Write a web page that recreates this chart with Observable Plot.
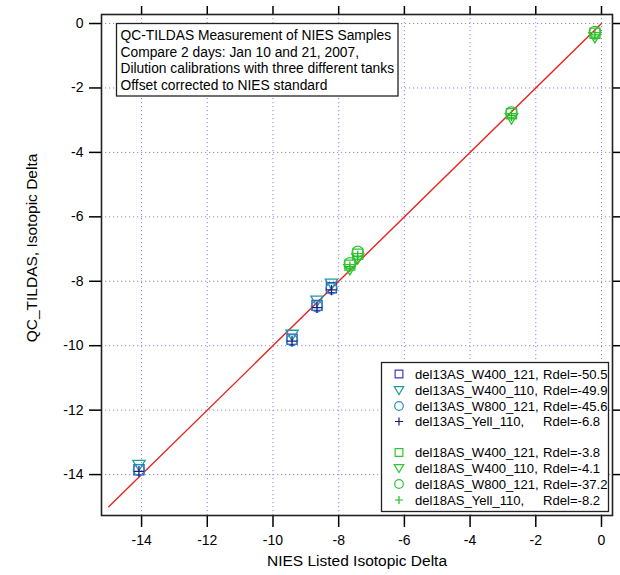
<!DOCTYPE html>
<html><head><meta charset="utf-8">
<script src="https://cdn.jsdelivr.net/npm/d3@7"></script>
<script src="https://cdn.jsdelivr.net/npm/@observablehq/plot@0.6"></script>
<style>body{margin:0;background:#fff}</style>
</head><body><div id="chart"></div>
<script>
// ---- data ----
const xTicks = [-14, -12, -10, -8, -6, -4, -2, 0];
const yTicks = [-14, -12, -10, -8, -6, -4, -2, 0];
const fitLine = [-15, 0];

const x13 = [-14.08, -9.42, -8.66, -8.22];
const y13_W400_121 = [-13.85, -9.80, -8.75, -8.20];
const y13_W400_110 = [-13.70, -9.66, -8.60, -8.07];
const y13_W800_121 = [-13.86, -9.83, -8.78, -8.23];
const y13_Yell_110 = [-13.90, -9.86, -8.82, -8.27];

const x18 = [-7.66, -7.42, -2.74, -0.20];
const y18_W400_121 = [-7.50, -7.16, -2.80, -0.30];
const y18_W400_110 = [-7.62, -7.28, -2.94, -0.42];
const y18_W800_121 = [-7.44, -7.08, -2.76, -0.26];
const y18_Yell_110 = [-7.55, -7.22, -2.86, -0.35];

const seriesNames = ["del13AS_W400_121,", "del13AS_W400_110,", "del13AS_W800_121,", "del13AS_Yell_110,",
                     "del18AS_W400_121,", "del18AS_W400_110,", "del18AS_W800_121,", "del18AS_Yell_110,"];
const seriesRdel = ["Rdel=-50.5", "Rdel=-49.9", "Rdel=-45.6", "Rdel=-6.8",
                    "Rdel=-3.8", "Rdel=-4.1", "Rdel=-37.2", "Rdel=-8.2"];
const seriesColors = ["#3b3bc4", "#1f9c9c", "#2a8fc4", "#1c1c80",
                      "#33c433", "#33c433", "#33c433", "#22bb22"];
const noteLines = ["QC-TILDAS Measurement of NIES Samples",
                   "Compare 2 days: Jan 10 and 21, 2007,",
                   "Dilution calibrations with three different tanks",
                   "Offset corrected to NIES standard"];

// ---- symbols ----
const symSquare = {draw(c, s){ const R = Math.sqrt(s/Math.PI)*0.9; c.moveTo(-R,-R); c.lineTo(R,-R); c.lineTo(R,R); c.lineTo(-R,R); c.closePath(); }};
const symTriDown = {draw(c, s){ const R = Math.sqrt(s/Math.PI); c.moveTo(-1.1*R,-0.8*R); c.lineTo(1.1*R,-0.8*R); c.lineTo(0,1.05*R); c.closePath(); }};
const symCircle = {draw(c, s){ const R = Math.sqrt(s/Math.PI); c.moveTo(R,0); c.arc(0,0,R,0,2*Math.PI); c.closePath(); }};
const symPlus = {draw(c, s){ const R = Math.sqrt(s/Math.PI)*0.95; c.moveTo(-R,0); c.lineTo(R,0); c.moveTo(0,-R); c.lineTo(0,R); }};
const syms = [symSquare, symTriDown, symCircle, symPlus, symSquare, symTriDown, symCircle, symPlus];

const ys = [y13_W400_121, y13_W400_110, y13_W800_121, y13_Yell_110,
            y18_W400_121, y18_W400_110, y18_W800_121, y18_Yell_110];
const dotMarks = ys.map((arr, i) => {
  const xs = i < 4 ? x13 : x18;
  const data = arr.map((y, j) => ({x: xs[j], y}));
  return Plot.dot(data, {x: "x", y: "y", symbol: () => syms[i], r: 5.6, stroke: seriesColors[i], strokeWidth: 1.3, fill: "none"});
});

const fmt = d => String(d);
const font = "'Liberation Sans', Arial, sans-serif";

const plot = Plot.plot({
  width: 620, height: 575,
  marginLeft: 101, marginRight: 8, marginTop: 14, marginBottom: 60,
  style: {fontFamily: font, fontSize: "14px", color: "#000", background: "#fff"},
  x: {domain: [-15.22, 0.335]},
  y: {domain: [-15.27, 0.28]},
  marks: [
    Plot.gridX(xTicks, {stroke: "#8c8cdc", strokeOpacity: 1, strokeDasharray: "1.2,2.8"}),
    Plot.gridY(yTicks, {stroke: "#8c8cdc", strokeOpacity: 1, strokeDasharray: "1.2,2.8"}),
    Plot.axisX(xTicks, {anchor: "bottom", tickSize: 12, tickPadding: 8, tickFormat: fmt, fontSize: 14, label: null, strokeWidth: 1.5}),
    Plot.axisX(xTicks, {anchor: "top", tickSize: 9, tickFormat: () => "", label: null, strokeWidth: 1.5}),
    Plot.axisY(yTicks, {anchor: "left", tickSize: 12, tickPadding: 6, tickFormat: fmt, fontSize: 14, label: null, strokeWidth: 1.5}),
    Plot.axisY(yTicks, {anchor: "right", tickSize: 9, tickFormat: () => "", label: null, strokeWidth: 1.5}),
    Plot.line(fitLine.map(v => ({v})), {x: "v", y: "v", stroke: "#e8231e", strokeWidth: 1.4}),
    ...dotMarks,
    Plot.frame({stroke: "#222", strokeWidth: 1.6}),
    Plot.text(["NIES Listed Isotopic Delta"], {frameAnchor: "bottom", dy: 50, fontSize: 15.5, fill: "#000", textAnchor: "middle"}),
    Plot.text(["QC_TILDAS, Isotopic Delta"], {frameAnchor: "left", dx: -69, dy: -17, rotate: -90, fontSize: 15.5, fill: "#000", textAnchor: "middle"})
  ]
});
document.getElementById("chart").appendChild(plot);

// ---- annotation box & legend ----
const svg = d3.select(plot);
const note = svg.append("g").attr("font-family", font).attr("font-size", 13.8).attr("text-anchor", "start");
note.append("rect").attr("x", 116.5).attr("y", 23.5).attr("width", 281.5).attr("height", 72.5)
  .attr("fill", "#fff").attr("stroke", "#222").attr("stroke-width", 1.3);
noteLines.forEach((t, i) => note.append("text").attr("x", 120.5).attr("y", 35 + i * 16.7)
  .attr("dy", "0.35em").text(t));

const leg = svg.append("g").attr("font-family", font).attr("font-size", 13.1).attr("text-anchor", "start");
leg.append("rect").attr("x", 381.5).attr("y", 362.5).attr("width", 227).attr("height", 149)
  .attr("fill", "#fff").attr("stroke", "#222").attr("stroke-width", 1.3);
const rowY = [374, 390, 406, 421.5, 452.5, 468, 484, 500];
seriesNames.forEach((name, i) => {
  leg.append("path").attr("d", d3.symbol().type(syms[i]).size(Math.PI * 4.3 * 4.3)())
    .attr("transform", `translate(399,${rowY[i]})`)
    .attr("fill", "none").attr("stroke", seriesColors[i]).attr("stroke-width", 1.2);
  leg.append("text").attr("x", 415).attr("y", rowY[i]).attr("dy", "0.35em").text(name);
  leg.append("text").attr("x", 543).attr("y", rowY[i]).attr("dy", "0.35em").text(seriesRdel[i]);
});
</script>
</body></html>
